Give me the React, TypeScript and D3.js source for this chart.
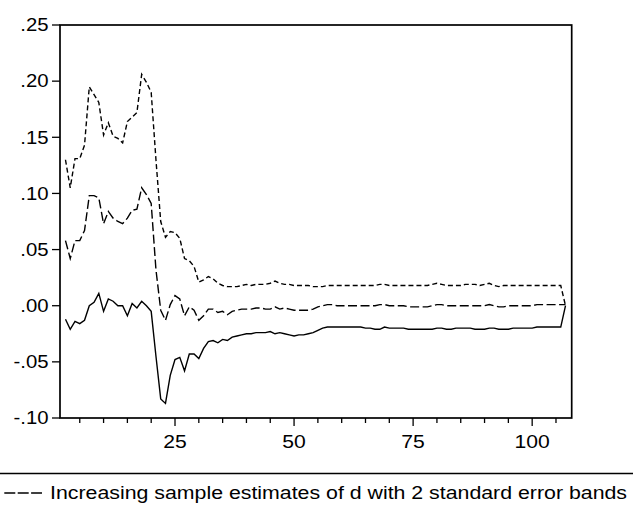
import * as d3 from 'd3'

// observations start at 2
const firstObs = 2

const upperBand = [
  0.130, 0.105, 0.131, 0.131, 0.143, 0.195, 0.188, 0.181, 0.152, 0.163,
  0.151, 0.149, 0.145, 0.164, 0.168, 0.172, 0.206, 0.199, 0.190, 0.130,
  0.075, 0.061, 0.066, 0.065, 0.060, 0.042, 0.040, 0.035, 0.021, 0.023,
  0.026, 0.024, 0.020, 0.018, 0.017, 0.017, 0.017, 0.018, 0.019, 0.018,
  0.019, 0.019, 0.019, 0.020, 0.022, 0.020, 0.019, 0.019, 0.018, 0.018,
  0.018, 0.018, 0.017, 0.017, 0.017, 0.018, 0.018, 0.018, 0.018, 0.018,
  0.018, 0.018, 0.018, 0.018, 0.018, 0.018, 0.019, 0.019, 0.018, 0.018,
  0.018, 0.018, 0.018, 0.018, 0.018, 0.018, 0.018, 0.019, 0.020, 0.019,
  0.018, 0.018, 0.018, 0.018, 0.019, 0.019, 0.019, 0.018, 0.019, 0.020,
  0.018, 0.017, 0.018, 0.018, 0.018, 0.018, 0.018, 0.018, 0.018, 0.018,
  0.018, 0.018, 0.018, 0.018, 0.018, 0.000,
]

const estimate = [
  0.058, 0.042, 0.058, 0.058, 0.067, 0.098, 0.098, 0.096, 0.073, 0.084,
  0.078, 0.075, 0.073, 0.078, 0.085, 0.086, 0.105, 0.099, 0.091, 0.032,
  -0.004, -0.013, 0.001, 0.009, 0.006, -0.009, -0.001, -0.004, -0.013, -0.009,
  -0.003, -0.003, -0.006, -0.005, -0.008, -0.005, -0.004, -0.003, -0.003, -0.003,
  -0.002, -0.002, -0.003, -0.003, -0.001, -0.003, -0.002, -0.003, -0.004, -0.004,
  -0.004, -0.004, -0.003, -0.001, 0.000, 0.001, 0.001, 0.000, 0.000, 0.000,
  0.000, 0.000, 0.000, 0.000, 0.000, 0.000, 0.001, 0.001, 0.000, 0.000,
  0.000, 0.000, -0.001, -0.001, -0.001, -0.001, -0.001, 0.000, 0.001, 0.001,
  0.000, 0.000, 0.000, 0.000, 0.000, 0.000, 0.000, 0.000, 0.000, 0.001,
  0.000, -0.001, -0.001, 0.000, 0.000, 0.000, 0.000, 0.000, 0.000, 0.001,
  0.001, 0.001, 0.001, 0.001, 0.001, 0.001,
]

const lowerBand = [
  -0.012, -0.021, -0.014, -0.016, -0.013, 0.000, 0.003, 0.011, -0.005, 0.006,
  0.004, 0.000, 0.000, -0.009, 0.002, -0.002, 0.004, 0.000, -0.005, -0.045,
  -0.083, -0.087, -0.062, -0.048, -0.046, -0.058, -0.043, -0.043, -0.047, -0.038,
  -0.032, -0.031, -0.033, -0.030, -0.031, -0.028, -0.027, -0.026, -0.025, -0.025,
  -0.024, -0.024, -0.024, -0.023, -0.025, -0.024, -0.025, -0.026, -0.027, -0.026,
  -0.026, -0.025, -0.024, -0.022, -0.020, -0.019, -0.019, -0.019, -0.019, -0.019,
  -0.019, -0.019, -0.019, -0.020, -0.020, -0.021, -0.021, -0.019, -0.020, -0.020,
  -0.020, -0.020, -0.021, -0.021, -0.021, -0.021, -0.021, -0.021, -0.020, -0.020,
  -0.021, -0.021, -0.020, -0.020, -0.020, -0.020, -0.021, -0.021, -0.021, -0.020,
  -0.020, -0.021, -0.021, -0.021, -0.020, -0.020, -0.020, -0.020, -0.020, -0.019,
  -0.019, -0.019, -0.019, -0.019, -0.019, 0.000,
]

const yTicks = [0.25, 0.2, 0.15, 0.1, 0.05, 0, -0.05, -0.1]
const yTickLabels = ['.25', '.20', '.15', '.10', '.05', '.00', '-.05', '-.10']
const xMajorTicks = [25, 50, 75, 100]
const xMinorTicks = [5, 10, 15, 20, 30, 35, 40, 45, 55, 60, 65, 70, 80, 85, 90, 95, 105]
const legendText = 'Increasing sample estimates of d with 2 standard error bands'

export default function App() {
  const width = 633
  const height = 508
  const left = 60
  const right = 571.7
  const top = 25
  const bottom = 418

  const x = d3.scaleLinear([0.85, 108.3], [left, right])
  const y = d3.scaleLinear([-0.1, 0.25], [bottom, top])

  const line = d3
    .line<number>()
    .x((_, i) => x(i + firstObs))
    .y((d) => y(d))

  const font = "'Liberation Sans', Arial, sans-serif"
  const stretch = 1.13

  return (
    <svg
      width={width}
      height={height}
      style={{ position: 'absolute', left: 0, top: 0, background: '#fff' }}
    >
      {/* series */}
      <path d={line(upperBand) as string} fill="none" stroke="#000" strokeWidth={1.4} strokeDasharray="5,3" />
      <path d={line(estimate) as string} fill="none" stroke="#000" strokeWidth={1.4} strokeDasharray="9,3.5" />
      <path d={line(lowerBand) as string} fill="none" stroke="#000" strokeWidth={1.4} />

      {/* frame */}
      <rect x={left} y={top} width={right - left} height={bottom - top} fill="none" stroke="#000" strokeWidth={1.7} />

      {/* y axis */}
      {yTicks.map((t, i) => (
        <g key={t}>
          <line x1={left - 8} x2={left} y1={y(t)} y2={y(t)} stroke="#000" strokeWidth={1.3} />
          <text
            transform={`translate(${left - 11.5},${y(t) + 6.3}) scale(${stretch},1)`}
            textAnchor="end"
            fontFamily={font}
            fontSize={18}
          >
            {yTickLabels[i]}
          </text>
        </g>
      ))}

      {/* x axis */}
      {xMinorTicks.map((t) => (
        <line key={t} x1={x(t)} x2={x(t)} y1={bottom} y2={bottom + 5} stroke="#000" strokeWidth={1.3} />
      ))}
      {xMajorTicks.map((t) => (
        <g key={t}>
          <line x1={x(t)} x2={x(t)} y1={bottom} y2={bottom + 8} stroke="#000" strokeWidth={1.3} />
          <text
            transform={`translate(${x(t)},448) scale(${stretch},1)`}
            textAnchor="middle"
            fontFamily={font}
            fontSize={18.7}
          >
            {t}
          </text>
        </g>
      ))}

      {/* legend */}
      <line x1={0} x2={width} y1={473.5} y2={473.5} stroke="#000" strokeWidth={1.3} />
      <line x1={4.3} x2={42} y1={493} y2={493} stroke="#000" strokeWidth={1.3} strokeDasharray="11,2.4" />
      <text
        x={50}
        y={498.7}
        fontFamily={font}
        fontSize={18.7}
        textLength={577}
        lengthAdjust="spacingAndGlyphs"
      >
        {legendText}
      </text>
    </svg>
  )
}
